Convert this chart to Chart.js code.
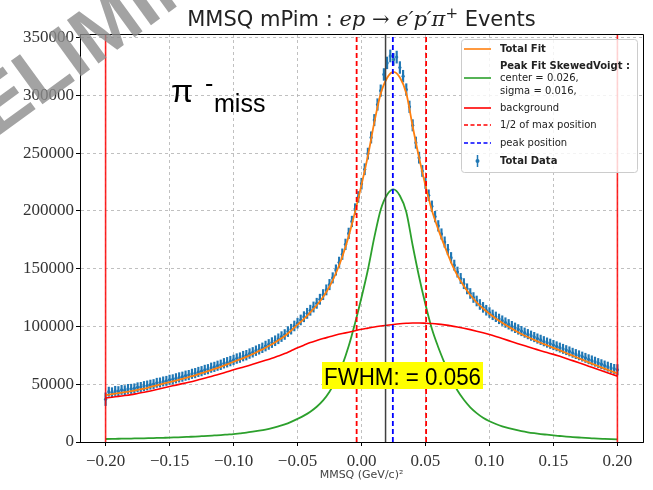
<!DOCTYPE html>
<html>
<head>
<meta charset="utf-8">
<script src="https://cdn.jsdelivr.net/npm/chart.js@4.4.1/dist/chart.umd.min.js"></script>
<style>
  html, body { margin: 0; padding: 0; background: #fff; }
  canvas { display: block; }
</style>
</head>
<body>
<canvas id="mmsq_chart" width="653" height="490"></canvas>
<script>
// ---------------- DATA (values in thousands of events) ----------------
const fitX = [
  -0.200,-0.195,-0.190,-0.185,-0.180,-0.175,-0.170,-0.165,-0.160,-0.155,
  -0.150,-0.145,-0.140,-0.135,-0.130,-0.125,-0.120,-0.115,-0.110,-0.105,
  -0.100,-0.095,-0.090,-0.085,-0.080,-0.075,-0.070,-0.065,-0.060,-0.055,
  -0.050,-0.045,-0.040,-0.035,-0.030,-0.025,-0.020,-0.015,-0.010,-0.005,
   0.000, 0.005, 0.010, 0.015, 0.020, 0.025, 0.030, 0.035, 0.040, 0.045,
   0.050, 0.055, 0.060, 0.065, 0.070, 0.075, 0.080, 0.085, 0.090, 0.095,
   0.100, 0.105, 0.110, 0.115, 0.120, 0.125, 0.130, 0.135, 0.140, 0.145,
   0.150, 0.155, 0.160, 0.165, 0.170, 0.175, 0.180, 0.185, 0.190, 0.195,
   0.200
];
const totalFit = [
  40.6,41.4,42.3,43.1,44.0,45.1,46.2,47.6,49.0,50.4,
  51.8,53.2,54.7,56.2,57.7,59.5,61.3,63.2,65.0,67.2,
  69.4,71.5,73.6,76.1,78.8,81.5,84.5,88.0,91.7,96.4,
  101.5,106.6,112.2,118.3,125.5,134.5,146.0,160.3,178.0,199.3,
  222.5,247.5,276.5,301.3,315.0,320.2,315.3,301.7,273.0,246.0,
  221.8,200.5,184.0,169.3,155.5,144.0,134.9,127.2,120.9,115.5,
  111.0,106.9,103.1,99.7,96.5,93.5,90.8,88.3,85.9,83.7,
  81.5,79.3,77.0,74.7,72.4,70.1,67.8,65.6,63.5,61.4,
  59.3
];
const peakFit = [
  2.6,2.7,2.8,2.9,3.0,3.1,3.2,3.35,3.5,3.65,
  3.8,4.0,4.2,4.45,4.7,5.0,5.3,5.65,6.0,6.45,
  6.9,7.5,8.1,8.9,9.8,10.8,12.0,13.5,15.2,17.4,
  20.0,22.8,26.2,30.5,36.0,43.5,53.5,66.5,83.0,103.0,
  125.0,149.0,177.0,201.0,214.0,218.5,213.0,199.0,170.0,143.0,
  119.0,98.0,82.0,68.0,55.0,44.5,36.5,30.0,25.0,21.0,
  18.0,15.6,13.6,12.0,10.6,9.4,8.4,7.6,6.9,6.3,
  5.7,5.2,4.7,4.3,3.9,3.5,3.2,2.9,2.7,2.5,
  2.3
];
const background = [
  38.0,38.7,39.5,40.2,41.0,42.0,43.0,44.2,45.5,46.7,
  48.0,49.2,50.5,51.7,53.0,54.5,56.0,57.5,59.0,60.7,
  62.5,64.0,65.5,67.2,69.0,70.7,72.5,74.5,76.5,79.0,
  81.5,83.8,86.0,87.8,89.5,91.0,92.5,93.8,95.0,96.3,
  97.5,98.5,99.5,100.3,101.0,101.7,102.3,102.7,103.0,103.0,
  102.8,102.5,102.0,101.3,100.5,99.5,98.4,97.2,95.9,94.5,
  93.0,91.3,89.5,87.7,85.9,84.1,82.4,80.7,79.0,77.4,
  75.8,74.1,72.3,70.4,68.5,66.6,64.6,62.7,60.8,58.9,
  57.0
];

// histogram bins: -0.2 ... 0.2, width 0.0025
const binFirst = -0.2, binWidth = 0.0025;
const totalData = [
  37.0,43.5,43.0,44.2,44.0,45.1,44.8,45.9,46.0,46.4,
  47.3,47.6,48.4,48.9,49.6,50.1,51.2,51.5,52.4,52.9,
  53.8,54.2,55.1,55.9,56.5,57.4,57.9,59.0,59.6,60.6,
  61.3,62.4,63.0,64.3,65.0,66.0,66.8,68.1,69.0,70.0,
  71.0,72.2,73.0,74.3,75.1,76.5,77.6,79.0,80.2,81.5,
  83.0,84.4,86.0,87.6,89.3,91.2,93.0,95.5,97.6,100.4,
  102.8,105.6,108.4,111.3,114.0,116.8,120.0,123.5,127.5,131.6,
  136.2,142.0,148.8,155.5,162.5,171.0,180.5,190.8,201.5,212.0,
  223.5,236.0,249.5,263.5,278.5,292.0,304.0,318.0,328.0,334.0,
  331.0,333.0,324.0,316.5,305.0,290.0,274.0,259.0,246.0,234.5,
  224.0,213.5,204.0,195.0,187.0,180.0,173.0,166.5,159.5,153.0,
  147.0,141.5,137.0,132.5,128.5,125.0,122.0,119.0,116.5,114.0,
  112.0,110.0,108.3,106.5,105.0,103.3,101.8,100.2,98.8,97.4,
  96.0,94.6,93.3,92.0,90.8,89.5,88.4,87.2,86.0,85.0,
  83.9,82.8,81.7,80.6,79.5,78.4,77.2,76.1,75.0,73.9,
  72.8,71.6,70.6,69.5,68.3,67.3,66.2,65.2,64.1,63.2,
  62.5
];
const dataErr = [
  5.5,4.0,4.0,4.0,4.0,4.0,4.0,4.0,4.0,4.0,
  4.0,4.0,4.0,4.0,4.0,4.0,4.0,4.0,4.0,4.0,
  4.1,4.1,4.1,4.1,4.1,4.1,4.1,4.1,4.1,4.1,
  4.1,4.1,4.1,4.1,4.1,4.1,4.2,4.2,4.2,4.2,
  4.2,4.2,4.2,4.2,4.2,4.2,4.2,4.2,4.2,4.2,
  4.3,4.3,4.3,4.3,4.3,4.3,4.3,4.3,4.3,4.3,
  4.3,4.3,4.4,4.4,4.4,4.4,4.4,4.4,4.4,4.4,
  4.5,4.5,4.5,4.5,4.6,4.6,4.6,4.6,4.7,4.7,
  4.7,4.8,4.8,4.9,4.9,5.0,5.0,5.1,5.1,5.2,
  5.2,5.2,5.1,5.1,5.0,5.0,4.9,4.9,4.8,4.8,
  4.7,4.7,4.6,4.6,4.6,4.5,4.5,4.5,4.5,4.4,
  4.4,4.4,4.4,4.4,4.3,4.3,4.3,4.3,4.3,4.3,
  4.3,4.2,4.2,4.2,4.2,4.2,4.2,4.2,4.2,4.2,
  4.1,4.1,4.1,4.1,4.1,4.1,4.1,4.1,4.1,4.1,
  4.1,4.0,4.0,4.0,4.0,4.0,4.0,4.0,4.0,4.0,
  4.0,4.0,4.0,4.0,4.0,4.0,4.0,4.0,4.0,4.0,
  4.5
];

// vertical markers
const rangeEdges = [-0.2, 0.2];
const halfMaxPos = [-0.0038, 0.0505];
const peakPos = 0.0245;
const meanPos = 0.0188;

const xTicks = [-0.20, -0.15, -0.10, -0.05, 0.00, 0.05, 0.10, 0.15, 0.20];
const yTicks = [0, 50000, 100000, 150000, 200000, 250000, 300000, 350000];
const yTop = 353000;
const K = 1000;

// ---------------- BUILD DATASETS ----------------
function curve(ys){
  return fitX.map((x, i) => ({x: x, y: ys[i] * K}));
}
function vline(x){
  return [{x: x, y: 0}, {x: x, y: yTop}];
}
const binX = totalData.map((v, i) => +(binFirst + i * binWidth).toFixed(4));
const dataPoints = totalData.map((v, i) => ({x: binX[i], y: v * K}));
const errBars = totalData.map((v, i) => ({x: binX[i], y: [(v - dataErr[i]) * K, (v + dataErr[i]) * K]}));

const lineBase = {type: 'line', pointRadius: 0, fill: false, cubicInterpolationMode: 'monotone'};
const ctx = document.getElementById('mmsq_chart').getContext('2d');

// ---------------- DECORATION PLUGIN ----------------
const decor = {
  id: 'decor',
  beforeDraw(chart){
    const c = chart.ctx;
    c.save();
    c.fillStyle = '#fff';
    c.fillRect(0, 0, chart.width, chart.height);
    c.restore();
  },
  afterDraw(chart){
    const c = chart.ctx;
    const a = chart.chartArea;
    c.save();

    // top & right frame
    c.strokeStyle = '#000';
    c.lineWidth = 1;
    c.beginPath();
    c.moveTo(a.left, a.top + 0.5);
    c.lineTo(a.right + 0.5, a.top + 0.5);
    c.lineTo(a.right + 0.5, a.bottom);
    c.stroke();

    // title
    const parts = [
      {t: 'MMSQ mPim : ', f: '21px "DejaVu Sans"', dy: 0},
      {t: 'ep', f: 'italic 21px "DejaVu Serif"', dy: 0},
      {t: ' \u2192 ', f: '21px "DejaVu Serif"', dy: 0},
      {t: 'e\u2032p\u2032\u03c0', f: 'italic 21px "DejaVu Serif"', dy: 0},
      {t: '+', f: '15px "DejaVu Serif"', dy: -8},
      {t: ' Events', f: '21px "DejaVu Sans"', dy: 0}
    ];
    let tw = 0;
    parts.forEach(p => { c.font = p.f; p.w = c.measureText(p.t).width; tw += p.w; });
    let tx = (a.left + a.right) / 2 - tw / 2;
    c.fillStyle = '#222';
    c.textBaseline = 'alphabetic';
    c.textAlign = 'left';
    parts.forEach(p => { c.font = p.f; c.fillText(p.t, tx, 26 + p.dy); tx += p.w; });

    // pi- miss label
    c.fillStyle = '#000';
    c.font = '32px "Liberation Sans"';
    c.fillText('\u03c0', 171, 102);
    c.font = '25px "Liberation Sans"';
    c.fillText('-', 205, 92);
    c.fillText('miss', 214, 112);

    // FWHM box
    c.fillStyle = '#ffff00';
    c.fillRect(322, 362, 161, 27);
    c.fillStyle = '#000';
    c.font = '24px "Liberation Sans"';
    const ft = 'FWHM: = 0.056';
    const fw = c.measureText(ft).width;
    c.save();
    c.translate(324, 385);
    c.scale(157 / fw, 1);
    c.fillText(ft, 0, 0);
    c.restore();

    // x-axis label
    c.fillStyle = '#444';
    c.font = '11px "DejaVu Sans"';
    c.textAlign = 'center';
    c.fillText('MMSQ (GeV/c)\u00b2', (a.left + a.right) / 2, 478);
    c.textAlign = 'left';

    // legend
    const lx = 461, ly = 39, lw = 176, lh = 133;
    c.fillStyle = 'rgba(255,255,255,0.8)';
    c.strokeStyle = '#cccccc';
    c.lineWidth = 1;
    c.beginPath();
    c.roundRect(lx + 0.5, ly + 0.5, lw, lh, 3);
    c.fill();
    c.stroke();
    const hx0 = 464, hx1 = 491, tx0 = 500;
    function handle(y, color, dash){
      c.strokeStyle = color;
      c.lineWidth = 1.6;
      c.setLineDash(dash || []);
      c.beginPath();
      c.moveTo(hx0, y);
      c.lineTo(hx1, y);
      c.stroke();
      c.setLineDash([]);
    }
    function label(y, text, bold){
      c.fillStyle = '#222';
      c.font = (bold ? 'bold ' : '') + '10px "DejaVu Sans"';
      c.textBaseline = 'middle';
      c.fillText(text, tx0, y);
    }
    handle(49, '#ff7f0e'); label(49, 'Total Fit', true);
    label(66, 'Peak Fit SkewedVoigt :', true);
    handle(78, '#2ca02c'); label(78, 'center = 0.026,');
    label(91, 'sigma = 0.016,');
    handle(108, '#ff0000'); label(108, 'background');
    handle(125, '#ff0000', [4, 2.5]); label(125, '1/2 of max position');
    handle(143, '#0000ff', [4, 2.5]); label(143, 'peak position');
    c.strokeStyle = '#1f77b4';
    c.lineWidth = 1.5;
    c.beginPath(); c.moveTo(477.5, 155); c.lineTo(477.5, 167); c.stroke();
    c.fillStyle = '#1f77b4';
    c.beginPath(); c.arc(477.5, 161, 2, 0, Math.PI * 2); c.fill();
    label(161, 'Total Data', true);
    c.textBaseline = 'alphabetic';

    // PRELIMINARY watermark
    c.save();
    c.translate(112, 27);
    c.rotate(-36 * Math.PI / 180);
    c.font = 'bold 78px "Liberation Sans"';
    c.fillStyle = 'rgba(140,140,140,0.8)';
    c.textAlign = 'center';
    c.textBaseline = 'middle';
    c.fillText('PRELIMINARY', 0, 0);
    c.restore();

    c.restore();
  }
};

// ---------------- CHART ----------------
const my_chart = new Chart(ctx, {
  type: 'scatter',
  data: {
    datasets: [
      {label: 'Total Data', type: 'scatter', data: dataPoints, pointRadius: 1.6, pointBorderWidth: 0,
       backgroundColor: '#1f77b4', borderColor: '#1f77b4', order: 20},
      {label: 'Total Data err', type: 'bar', data: errBars, backgroundColor: '#1f77b4',
       barThickness: 1.5, borderWidth: 0, order: 21},
      Object.assign({label: 'Total Fit', data: curve(totalFit), borderColor: '#ff7f0e', borderWidth: 1.8, order: 9}, lineBase),
      Object.assign({label: 'Peak Fit', data: curve(peakFit), borderColor: '#2ca02c', borderWidth: 1.8, order: 8}, lineBase),
      Object.assign({label: 'background', data: curve(background), borderColor: '#ff0000', borderWidth: 1.6, order: 7}, lineBase),
      {label: 'edge L', type: 'line', data: vline(rangeEdges[0]), borderColor: 'rgba(255,0,0,0.85)', borderWidth: 1.6, pointRadius: 0, order: 3},
      {label: 'edge R', type: 'line', data: vline(rangeEdges[1]), borderColor: 'rgba(255,0,0,0.85)', borderWidth: 1.6, pointRadius: 0, order: 3},
      {label: 'half L', type: 'line', data: vline(halfMaxPos[0]), borderColor: '#ff0000', borderWidth: 1.8, borderDash: [5, 3], pointRadius: 0, order: 2},
      {label: 'half R', type: 'line', data: vline(halfMaxPos[1]), borderColor: '#ff0000', borderWidth: 1.8, borderDash: [5, 3], pointRadius: 0, order: 2},
      {label: 'mean', type: 'line', data: vline(meanPos), borderColor: '#404040', borderWidth: 1.5, pointRadius: 0, order: 2},
      {label: 'peak', type: 'line', data: vline(peakPos), borderColor: '#0000ff', borderWidth: 1.8, borderDash: [5, 3], pointRadius: 0, order: 1}
    ]
  },
  options: {
    responsive: false,
    devicePixelRatio: 1,
    animation: false,
    layout: {padding: {top: 34, right: 10, left: 0, bottom: 0}},
    plugins: {legend: {display: false}, tooltip: {enabled: false}, title: {display: false}},
    scales: {
      x: {
        type: 'linear', min: -0.22, max: 0.22, offset: false,
        afterFit: s => { s.height = 48; },
        afterBuildTicks: s => { s.ticks = xTicks.map(v => ({value: v})); },
        grid: {color: '#b0b0b0', lineWidth: 0.8, offset: false, tickLength: 4, tickColor: '#000', tickWidth: 1, tickBorderDash: []},
        border: {color: '#000', width: 1, dash: [3, 3]},
        ticks: {
          font: {family: 'Liberation Serif', size: 17}, color: '#333', padding: 5, maxRotation: 0,
          callback: v => v.toFixed(2).replace('-', '\u2212')
        }
      },
      y: {
        type: 'linear', min: 0, max: yTop,
        afterFit: s => { s.width = 80; },
        afterBuildTicks: s => { s.ticks = yTicks.map(v => ({value: v})); },
        grid: {color: '#b0b0b0', lineWidth: 0.8, tickLength: 4, tickColor: '#000', tickWidth: 1, tickBorderDash: []},
        border: {color: '#000', width: 1, dash: [3, 3]},
        ticks: {font: {family: 'Liberation Serif', size: 17}, color: '#333', padding: 2, callback: v => String(v)}
      }
    }
  },
  plugins: [decor]
});
</script>
</body>
</html>
